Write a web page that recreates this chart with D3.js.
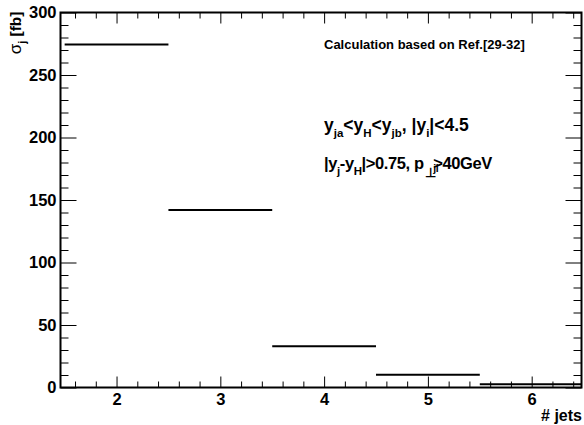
<!DOCTYPE html>
<html>
<head>
<meta charset="utf-8">
<script src="https://cdn.jsdelivr.net/npm/d3@7"></script>
<style>
  body { margin: 0; background: #fff; }
  svg { display: block; font-family: "Liberation Sans", Arial, Helvetica, sans-serif; }
  .tick text { font-weight: bold; font-size: 16.5px; fill: #000; }
  .domain { display: none; }
</style>
</head>
<body>
<div id="chart"></div>
<script>
// number of jets per bin (bin edges) and cross section in fb
const binLow = [1.5, 2.5, 3.5, 4.5, 5.5];
const binHigh = [2.5, 3.5, 4.5, 5.5, 6.5];
const sigma = [274.5, 142, 33, 10.3, 2.6];
const xTicks = [2, 3, 4, 5, 6];
const yTicks = [0, 50, 100, 150, 200, 250, 300];

const width = 584, height = 425;
const margin = { top: 12.5, right: 2.5, bottom: 37.5, left: 60.5 };
const innerW = width - margin.left - margin.right;
const innerH = height - margin.top - margin.bottom;

const svg = d3.select('#chart').append('svg')
  .attr('width', width)
  .attr('height', height);

const chart = svg.append('g')
  .attr('transform', `translate(${margin.left},${margin.top})`);

const x = d3.scaleLinear().domain([1.46, 6.48]).range([0, innerW]);
const y = d3.scaleLinear().domain([0, 300]).range([innerH, 0]);

const clip = svg.append('defs').append('clipPath').attr('id', 'plot-clip');
clip.append('rect').attr('width', innerW).attr('height', innerH);

// minor tick positions
const xMinor = d3.range(1.6, 6.5, 0.2).map(v => Math.round(v * 10) / 10).filter(v => v <= 6.48 && !xTicks.includes(v));
const yMinor = d3.range(0, 301, 10).filter(v => !yTicks.includes(v));

// bottom axis, major + minor
chart.append('g')
  .attr('transform', `translate(0,${innerH})`)
  .call(d3.axisBottom(x).tickValues(xTicks).tickSize(-11).tickFormat(d3.format('d')))
  .call(g => g.selectAll('text').attr('dy', '0.71em').attr('y', 6));
chart.append('g')
  .attr('transform', `translate(0,${innerH})`)
  .call(d3.axisBottom(x).tickValues(xMinor).tickSize(-6).tickFormat(''));

// top axis ticks
chart.append('g')
  .call(d3.axisTop(x).tickValues(xTicks).tickSize(-11).tickFormat(''));
chart.append('g')
  .call(d3.axisTop(x).tickValues(xMinor).tickSize(-6).tickFormat(''));

// left axis
chart.append('g')
  .call(d3.axisLeft(y).tickValues(yTicks).tickSize(-16).tickFormat(d3.format('d')))
  .call(g => g.selectAll('text').attr('x', -4));
chart.append('g')
  .call(d3.axisLeft(y).tickValues(yMinor).tickSize(-8).tickFormat(''));

// right axis ticks
chart.append('g')
  .attr('transform', `translate(${innerW},0)`)
  .call(d3.axisRight(y).tickValues(yTicks).tickSize(-16).tickFormat(''));
chart.append('g')
  .attr('transform', `translate(${innerW},0)`)
  .call(d3.axisRight(y).tickValues(yMinor).tickSize(-8).tickFormat(''));

chart.selectAll('.tick line').attr('stroke', '#000').attr('stroke-width', 1);

// histogram bins
chart.append('g')
  .attr('clip-path', 'url(#plot-clip)')
  .selectAll('line')
  .data(sigma)
  .join('line')
  .attr('x1', (d, i) => x(binLow[i]))
  .attr('x2', (d, i) => x(binHigh[i]))
  .attr('y1', d => y(d))
  .attr('y2', d => y(d))
  .attr('stroke', '#000')
  .attr('stroke-width', 2);

// frame
chart.append('rect')
  .attr('width', innerW)
  .attr('height', innerH)
  .attr('fill', 'none')
  .attr('stroke', '#000')
  .attr('stroke-width', 2);

// axis titles
svg.append('text')
  .attr('x', width - 2)
  .attr('y', 421)
  .attr('text-anchor', 'end')
  .style('font-weight', 'bold')
  .style('font-size', '16px')
  .text('# jets');

const yTitle = svg.append('text')
  .attr('transform', `translate(21,${margin.top - 1}) rotate(-90)`)
  .attr('text-anchor', 'end')
  .style('font-weight', 'bold')
  .style('font-size', '15.5px');
yTitle.append('tspan').style('font-weight', 'normal').style('font-size', '17px').text('σ');
yTitle.append('tspan').attr('dy', 5).style('font-size', '11px').text('j');
yTitle.append('tspan').attr('dy', -5).text(' [fb]');

// annotations
svg.append('text')
  .attr('x', 324)
  .attr('y', 49)
  .style('font-weight', 'bold')
  .style('font-size', '13px')
  .text('Calculation based on Ref.[29-32]');

const sub = (t, txt) => t.append('tspan').attr('dy', 6).style('font-size', '11.5px').text(txt);
const back = (t, txt) => t.append('tspan').attr('dy', -6).text(txt);

const cut1 = svg.append('text')
  .attr('x', 324)
  .attr('y', 131)
  .style('font-weight', 'bold')
  .style('font-size', '17.5px');
cut1.append('tspan').text('y');
sub(cut1, 'ja');
back(cut1, '<y');
sub(cut1, 'H');
back(cut1, '<y');
sub(cut1, 'jb');
back(cut1, ', |y');
sub(cut1, 'i');
back(cut1, '|<4.5');

const cut2 = svg.append('text')
  .attr('x', 324)
  .attr('y', 169)
  .style('font-weight', 'bold')
  .style('font-size', '16.5px')
  .style('letter-spacing', '-0.4px');
cut2.append('tspan').text('|y');
sub(cut2, 'j');
back(cut2, '-y');
sub(cut2, 'H');
back(cut2, '|>0.75, p');
cut2.append('tspan').attr('dy', 8).attr('dx', 1).style('font-size', '13px').text('⊥');
cut2.append('tspan').attr('dy', -5).attr('dx', -2).style('font-size', '10.5px').text('ji');
cut2.append('tspan').attr('dy', -3).attr('dx', -5).text('>40GeV');
</script>
</body>
</html>
